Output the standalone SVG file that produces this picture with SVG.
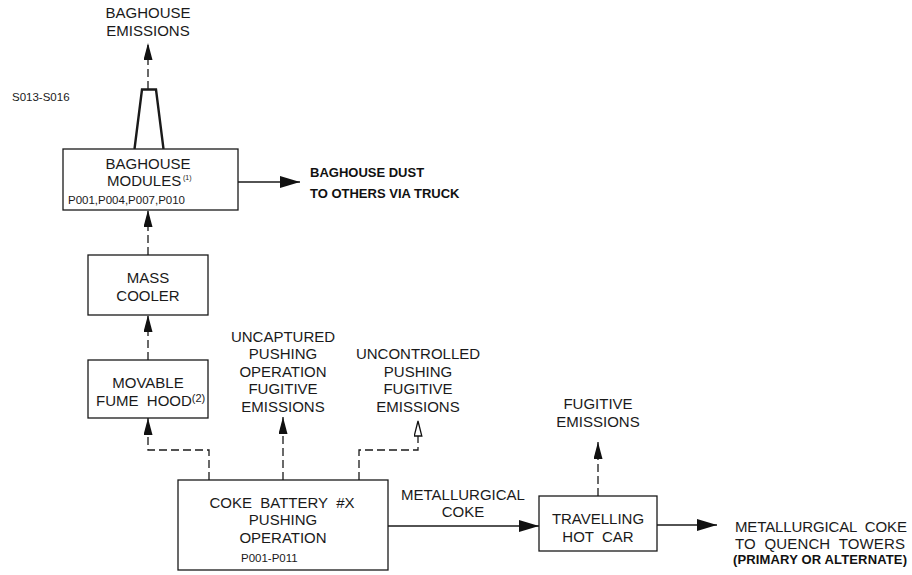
<svg xmlns="http://www.w3.org/2000/svg" width="912" height="575" viewBox="0 0 912 575">
<style>
.box{fill:#fff;stroke:#1a1a1a;stroke-width:1.3}
.t{font-family:"Liberation Sans",Arial,sans-serif;font-size:15px;fill:#1a1a1a;text-anchor:middle}
.tl{font-family:"Liberation Sans",Arial,sans-serif;font-size:15px;fill:#1a1a1a}
.c{font-family:"Liberation Sans",Arial,sans-serif;font-size:11.5px;fill:#1a1a1a}
.b{font-family:"Liberation Sans",Arial,sans-serif;font-size:13px;font-weight:bold;fill:#111}
.solid{fill:none;stroke:#1a1a1a;stroke-width:1.3}
.dash{fill:none;stroke:#1a1a1a;stroke-width:1.3;stroke-dasharray:8,4}
</style>
<defs>
<marker id="ah" markerUnits="userSpaceOnUse" markerWidth="20" markerHeight="14" refX="20" refY="6" orient="auto">
<path d="M0,0 L20,6 L0,12 Z" fill="#111"/>
</marker>
<marker id="av" markerUnits="userSpaceOnUse" markerWidth="17" markerHeight="11" refX="17" refY="4.5" orient="auto">
<path d="M0,0 L17,4.5 L0,9 Z" fill="#111"/>
</marker>
<marker id="avo" markerUnits="userSpaceOnUse" markerWidth="17" markerHeight="11" refX="17" refY="4.5" orient="auto">
<path d="M1,0.7 L16,4.5 L1,8.3 Z" fill="#fff" stroke="#111" stroke-width="1.3"/>
</marker>
</defs>

<g id="connectors">
<path class="dash" d="M148,89 V43" marker-end="url(#av)"/>
<path class="solid" d="M238,182 H300" marker-end="url(#ah)"/>
<path class="dash" d="M148,255 V210" marker-end="url(#av)"/>
<path class="dash" d="M148,360 V315" marker-end="url(#av)"/>
<path class="dash" d="M209,480 V450 H148 V418" marker-end="url(#av)"/>
<path class="dash" d="M283,480 V417" marker-end="url(#av)"/>
<path class="dash" d="M359,480 V450 H418 V420" marker-end="url(#avo)"/>
<path class="solid" d="M388,526 H539" marker-end="url(#ah)"/>
<path class="dash" d="M598,496 V442" marker-end="url(#av)"/>
<path class="solid" d="M657,525 H717" marker-end="url(#ah)"/>
</g>

<g id="baghouse-emissions">
<text class="t" x="148" y="18">BAGHOUSE</text>
<text class="t" x="148" y="36">EMISSIONS</text>
</g>

<g id="stack-label">
<text class="c" x="12" y="101">S013-S016</text>
</g>

<g id="stack">
<path d="M134.5,149 L142,89.5 H156 L163.5,149" fill="none" stroke="#1a1a1a" stroke-width="2.4" stroke-linejoin="miter"/>
</g>

<g id="baghouse-modules">
<rect class="box" x="63" y="149" width="175" height="61"/>
<text class="t" x="148" y="169">BAGHOUSE</text>
<text class="tl" x="107" y="186">MODULES</text>
<text class="tl" x="183" y="180" style="font-size:7px">(1)</text>
<text class="c" x="68" y="204">P001,P004,P007,P010</text>
</g>

<g id="baghouse-dust">
<text class="b" x="310" y="177">BAGHOUSE DUST</text>
<text class="b" x="310" y="198">TO OTHERS VIA TRUCK</text>
</g>

<g id="mass-cooler">
<rect class="box" x="88" y="255" width="120" height="60"/>
<text class="t" x="148" y="283">MASS</text>
<text class="t" x="148" y="301">COOLER</text>
</g>

<g id="movable-fume-hood">
<rect class="box" x="88" y="360" width="120" height="58"/>
<text class="t" x="148" y="388">MOVABLE</text>
<text class="tl" x="96" y="406" xml:space="preserve">FUME  HOOD<tspan style="font-size:11px" dy="-4">(2)</tspan></text>
</g>

<g id="uncaptured">
<text class="t" x="283" y="342">UNCAPTURED</text>
<text class="t" x="283" y="359">PUSHING</text>
<text class="t" x="283" y="377">OPERATION</text>
<text class="t" x="283" y="394">FUGITIVE</text>
<text class="t" x="283" y="412">EMISSIONS</text>
</g>

<g id="uncontrolled">
<text class="t" x="418" y="359">UNCONTROLLED</text>
<text class="t" x="418" y="377">PUSHING</text>
<text class="t" x="418" y="394">FUGITIVE</text>
<text class="t" x="418" y="412">EMISSIONS</text>
</g>

<g id="coke-battery">
<rect class="box" x="178" y="480" width="210" height="90"/>
<text class="t" x="282" y="508" xml:space="preserve">COKE  BATTERY  #X</text>
<text class="t" x="283" y="525">PUSHING</text>
<text class="t" x="283" y="543">OPERATION</text>
<text class="c" x="241" y="562">P001-P011</text>
</g>

<g id="metallurgical-coke-label">
<text class="t" x="463" y="500">METALLURGICAL</text>
<text class="t" x="463" y="517">COKE</text>
</g>

<g id="travelling-hot-car">
<rect class="box" x="539" y="496" width="118" height="55"/>
<text class="t" x="598" y="524">TRAVELLING</text>
<text class="t" x="598" y="542" xml:space="preserve">HOT  CAR</text>
</g>

<g id="fugitive-emissions">
<text class="t" x="598" y="409">FUGITIVE</text>
<text class="t" x="598" y="427">EMISSIONS</text>
</g>

<g id="quench-output">
<text class="tl" x="735" y="532" xml:space="preserve" textLength="172">METALLURGICAL  COKE</text>
<text class="tl" x="735" y="549" xml:space="preserve" textLength="170">TO  QUENCH  TOWERS</text>
<text class="b" x="733" y="564" textLength="174">(PRIMARY OR ALTERNATE)</text>
</g>
</svg>
